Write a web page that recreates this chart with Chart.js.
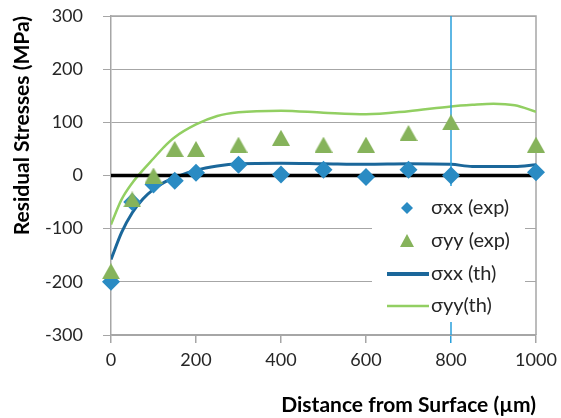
<!DOCTYPE html>
<html>
<head>
<meta charset="utf-8">
<script src="https://cdn.jsdelivr.net/npm/chart.js@4"></script>
<style>
  body { margin: 0; background: #fff; }
</style>
</head>
<body>
<canvas id="stressChart" width="561" height="418"></canvas>
<script>
// measured points
const xExp = [0, 50, 100, 150, 200, 300, 400, 500, 600, 700, 800, 1000];
const sxxExp = [-200, -50, -17, -10, 5, 20, 2, 11, -3, 11, 0, 6];
const syyExp = [-180, -45, 0, 50, 50, 58, 71, 58, 58, 80, 100, 58];

// theoretical curves
const xTh = [0, 25, 50, 75, 100, 125, 150, 200, 250, 300, 400, 500, 600, 700, 800, 850, 900, 950, 1000];
const sxxTh = [-158, -107, -70, -44, -26, -13, -4, 10, 18, 22, 23, 22, 21, 22, 21, 17, 17, 17, 20];
const syyTh = [-92, -45, -14, 10, 32, 54, 72, 96, 112, 119, 122, 118, 115, 121, 130, 133, 135, 132, 120];

const yTicks = [-300, -200, -100, 0, 100, 200, 300];
const xTicks = [0, 200, 400, 600, 800, 1000];
const markX = 800;

const legendLabels = ['σxx (exp)', 'σyy (exp)', 'σxx (th)', 'σyy(th)'];

const BLUE = '#2a8bc3';
const GREEN = '#86b35b';
const DARK_BLUE = '#1b679a';
const LIGHT_GREEN = '#92cf62';
const MARK_BLUE = '#2aa0dc';
const AXIS_GRAY = '#a6a6a6';
const FONT = 'Lato, "Open Sans", sans-serif';

function pts(xs, ys) {
    return xs.map((x, i) => ({ x: x, y: ys[i] }));
}

// excel-like triangle: centred on its bounding box, not its circumcentre
function triangleImage(w, h, color) {
    const c = document.createElement('canvas');
    c.width = w;
    c.height = h;
    const g = c.getContext('2d');
    g.fillStyle = color;
    g.beginPath();
    g.moveTo(w / 2, 0);
    g.lineTo(w, h);
    g.lineTo(0, h);
    g.closePath();
    g.fill();
    return c;
}

// plot frame (top + right edges), drawn under the data
const framePlugin = {
    id: 'frame',
    beforeDatasetsDraw(chart) {
        const { ctx, chartArea: ca } = chart;
        ctx.save();
        ctx.strokeStyle = AXIS_GRAY;
        ctx.lineWidth = 1.5;
        ctx.beginPath();
        ctx.moveTo(ca.left, ca.top);
        ctx.lineTo(ca.right, ca.top);
        ctx.lineTo(ca.right, ca.bottom);
        ctx.stroke();
        ctx.restore();
    }
};

// legend box sitting inside the plot, like the excel one
const legendPlugin = {
    id: 'insideLegend',
    afterDatasetsDraw(chart) {
        const { ctx, chartArea: ca } = chart;
        const left = ca.right - 164;
        const top = ca.top + 170;
        ctx.save();
        ctx.fillStyle = '#fff';
        ctx.fillRect(left, top, 153, 136);

        const mx = left + 35;
        const tx = left + 59;
        const rows = [top + 22, top + 55, top + 88, top + 120];

        // diamond
        ctx.fillStyle = BLUE;
        ctx.beginPath();
        ctx.moveTo(mx, rows[0] - 6);
        ctx.lineTo(mx + 6, rows[0]);
        ctx.lineTo(mx, rows[0] + 6);
        ctx.lineTo(mx - 6, rows[0]);
        ctx.closePath();
        ctx.fill();

        // triangle
        ctx.fillStyle = GREEN;
        ctx.beginPath();
        ctx.moveTo(mx, rows[1] - 7);
        ctx.lineTo(mx + 7, rows[1] + 6);
        ctx.lineTo(mx - 7, rows[1] + 6);
        ctx.closePath();
        ctx.fill();

        // line samples
        ctx.lineWidth = 4;
        ctx.strokeStyle = DARK_BLUE;
        ctx.beginPath();
        ctx.moveTo(left + 15, rows[2]);
        ctx.lineTo(tx - 2, rows[2]);
        ctx.stroke();
        ctx.lineWidth = 2.5;
        ctx.strokeStyle = LIGHT_GREEN;
        ctx.beginPath();
        ctx.moveTo(left + 15, rows[3]);
        ctx.lineTo(tx - 2, rows[3]);
        ctx.stroke();

        ctx.fillStyle = '#262626';
        ctx.font = '20px ' + FONT;
        ctx.textBaseline = 'middle';
        ctx.textAlign = 'left';
        legendLabels.forEach((t, i) => ctx.fillText(t, tx, rows[i]));
        ctx.restore();
    }
};

const ctx = document.getElementById('stressChart').getContext('2d');
new Chart(ctx, {
    type: 'scatter',
    data: {
        datasets: [
            {
                label: legendLabels[1],
                data: pts(xExp, syyExp),
                pointStyle: triangleImage(18, 16, GREEN),
                pointRadius: 10,
                showLine: false,
                clip: false,
                order: 0
            },
            {
                label: legendLabels[0],
                data: pts(xExp, sxxExp),
                pointStyle: 'rectRot',
                pointRadius: 9,
                pointBackgroundColor: BLUE,
                pointBorderWidth: 0,
                showLine: false,
                clip: false,
                order: 1
            },
            {
                label: 'marker',
                data: [{ x: markX, y: yTicks[yTicks.length - 1] }, { x: markX, y: yTicks[0] }],
                showLine: true,
                borderColor: MARK_BLUE,
                borderWidth: 1.5,
                pointRadius: 0,
                order: 2
            },
            {
                label: 'zero',
                data: [{ x: xTicks[0], y: 0 }, { x: xTicks[xTicks.length - 1], y: 0 }],
                showLine: true,
                borderColor: '#000',
                borderWidth: 3.5,
                pointRadius: 0,
                order: 3
            },
            {
                label: legendLabels[2],
                data: pts(xTh, sxxTh),
                showLine: true,
                borderColor: DARK_BLUE,
                borderWidth: 3,
                pointRadius: 0,
                cubicInterpolationMode: 'monotone',
                order: 4
            },
            {
                label: legendLabels[3],
                data: pts(xTh, syyTh),
                showLine: true,
                borderColor: LIGHT_GREEN,
                borderWidth: 2.5,
                pointRadius: 0,
                cubicInterpolationMode: 'monotone',
                order: 5
            }
        ]
    },
    options: {
        responsive: false,
        animation: false,
        layout: { padding: { top: 16, right: 25, left: 0, bottom: 0 } },
        plugins: {
            legend: { display: false },
            tooltip: { enabled: false }
        },
        scales: {
            x: {
                type: 'linear',
                min: xTicks[0],
                max: xTicks[xTicks.length - 1],
                afterBuildTicks: s => { s.ticks = xTicks.map(v => ({ value: v })); },
                afterFit: s => {
                    s.height = 83;
                    s.paddingLeft = 0;
                    s.paddingRight = 0;
                },
                border: { color: AXIS_GRAY, width: 1.5 },
                grid: {
                    drawOnChartArea: false,
                    tickLength: 8,
                    color: c => (c.tick && c.tick.value === markX) ? MARK_BLUE : AXIS_GRAY,
                    lineWidth: 1.5
                },
                ticks: {
                    padding: 6,
                    color: '#262626',
                    font: { family: FONT, size: 18 },
                    maxRotation: 0,
                    callback: v => String(v)
                },
                title: {
                    display: true,
                    text: 'Distance from Surface (µm)',
                    align: 'end',
                    color: '#000',
                    font: { family: FONT, size: 21, weight: 'bold' },
                    padding: { top: 0, bottom: 0 }
                }
            },
            y: {
                min: yTicks[0],
                max: yTicks[yTicks.length - 1],
                afterBuildTicks: s => { s.ticks = yTicks.map(v => ({ value: v })); },
                afterFit: s => {
                    s.width = 111;
                    s.paddingTop = 0;
                    s.paddingBottom = 0;
                },
                border: { color: AXIS_GRAY, width: 1.5 },
                grid: {
                    color: AXIS_GRAY,
                    lineWidth: 1,
                    borderDash: [4, 3],
                    tickBorderDash: [],
                    tickLength: 8
                },
                ticks: {
                    padding: 20,
                    color: '#262626',
                    font: { family: FONT, size: 18 },
                    callback: v => String(v)
                },
                title: {
                    display: true,
                    text: 'Residual Stresses (MPa)',
                    align: 'end',
                    color: '#000',
                    font: { family: FONT, size: 21, weight: 'bold' },
                    padding: { top: 10, bottom: 0 }
                }
            }
        }
    },
    plugins: [framePlugin, legendPlugin]
});
</script>
</body>
</html>
